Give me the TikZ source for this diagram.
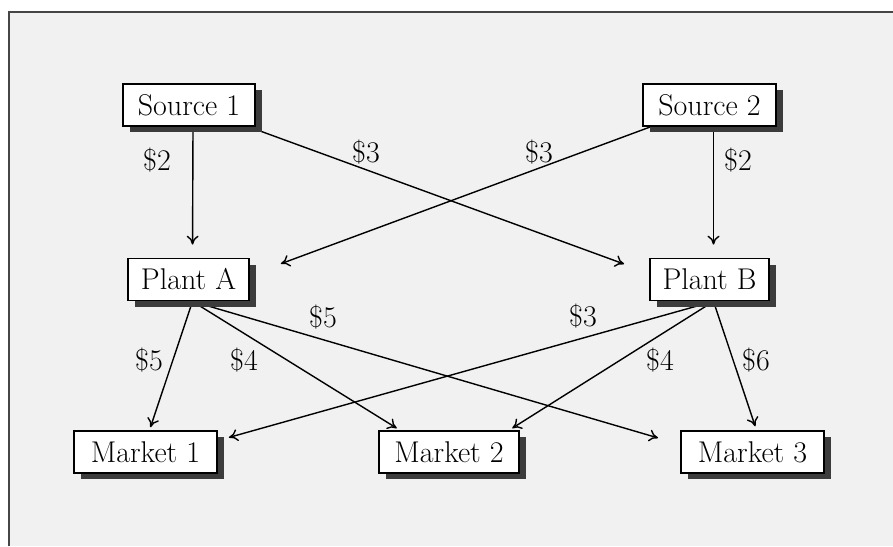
\documentclass[tikz,border=0pt]{standalone}
\usetikzlibrary{shadows,arrows.meta}
\pgfdeclarelayer{back}
\pgfdeclarelayer{edges}
\pgfsetlayers{back,edges,main}
\definecolor{panel}{RGB}{241,241,241}
\definecolor{framec}{RGB}{70,70,70}
\definecolor{shadowc}{RGB}{60,60,60}
\tikzset{
  box/.style={draw=black, line width=0.9pt, fill=white, minimum height=21pt,
    inner xsep=4pt, inner ysep=0pt,
    font=\fontsize{15}{18}\selectfont,
    drop shadow={shadow xshift=3.5pt, shadow yshift=-3.2pt, fill=shadowc, opacity=1}},
  cost/.style={font=\fontsize{15}{18}\selectfont, inner sep=0pt},
  link/.style={line width=0.7pt, -{To[length=4.5pt,width=6pt]}},
}
\begin{document}
\begin{tikzpicture}[x=0.5pt, y=-0.5pt]
\useasboundingbox (0,0) rectangle (893,546);
\begin{pgfonlayer}{back}
  \fill[panel] (9,12) rectangle (893,546);
  \draw[framec, line width=1pt] (9,546) -- (9,12) -- (893,12);
\end{pgfonlayer}

\node[box, minimum width=66pt]   (s1) at (189,105)   {Source 1};
\node[box, minimum width=66.5pt] (s2) at (709.5,105) {Source 2};
\node[box, minimum width=60.5pt] (pa) at (188.5,279.5) {Plant A};
\node[box, minimum width=59.5pt] (pb) at (709.5,279.5) {Plant B};
\node[box, minimum width=71.5pt] (m1) at (145.5,452) {Market 1};
\node[box, minimum width=70pt]   (m2) at (449,452)   {Market 2};
\node[box, minimum width=71.5pt] (m3) at (752.5,452) {Market 3};

\begin{pgfonlayer}{edges}
  \draw[link, shorten >=6.5pt] ([xshift=2pt]s1.south) -- ([xshift=2pt]pa.north);
  \draw[link, shorten >=6.5pt] ([xshift=2pt]s2.south) -- ([xshift=2pt]pb.north);
  \draw[link, shorten >=13.3pt] (s1) -- (pb.174);
  \draw[link, shorten >=16.5pt] (s2) -- (pa.4);
  \draw[link, shorten >=1.5pt] ([xshift=2pt]pa.south) -- ([xshift=2pt]m1.north);
  \draw[link, shorten >=1.8pt] ([xshift=2pt]pa.south) -- (m2.156);
  \draw[link, shorten >=11.5pt] ([xshift=2pt]pa.south) -- (m3.174);
  \draw[link, shorten >=5.7pt] ([xshift=2pt]pb.south) -- (m1.9.5);
  \draw[link, shorten >=1.8pt] ([xshift=2pt]pb.south) -- (m2.20.6);
  \draw[link, shorten >=2pt] ([xshift=2pt]pb.south) -- ([xshift=2pt]m3.north);
\end{pgfonlayer}

\node[cost] (c1) at (157,160) {\$2};
\node[cost] (c2) at (366,152) {\$3};
\node[cost] (c3) at (539,152) {\$3};
\node[cost] (c4) at (738,160) {\$2};
\node[cost] (c5) at (149,360) {\$5};
\node[cost] (c6) at (244,360) {\$4};
\node[cost] (c7) at (323,317) {\$5};
\node[cost] (c8) at (583,316) {\$3};
\node[cost] (c9) at (660,360) {\$4};
\node[cost] (c10) at (756,360) {\$6};
\end{tikzpicture}
\end{document}
